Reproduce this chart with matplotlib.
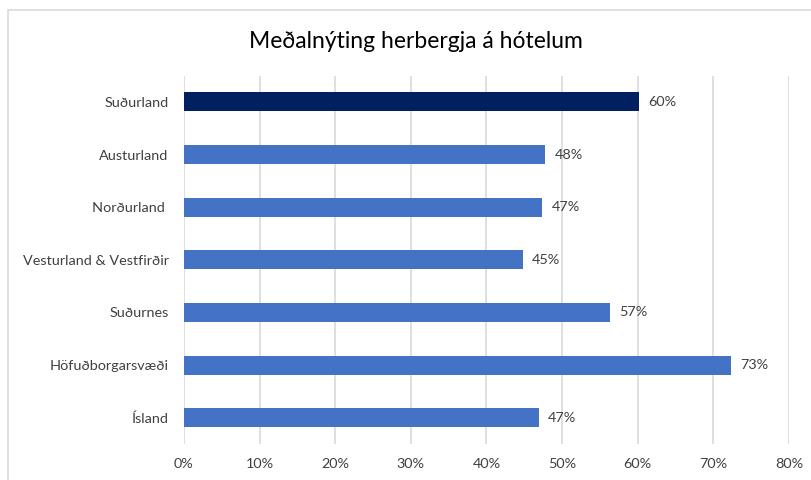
import matplotlib.pyplot as plt
from matplotlib.patches import Rectangle

categories = ['Suðurland', 'Austurland', 'Norðurland ', 'Vesturland & Vestfirðir',
              'Suðurnes', 'Höfuðborgarsvæði', 'Ísland']
values = [60.2, 47.8, 47.4, 44.8, 56.4, 72.4, 46.9]
labels = ['60%', '48%', '47%', '45%', '57%', '73%', '47%']
colors = ['#002060'] + ['#4472c4'] * 6

plt.rcParams['font.family'] = ['Lato', 'DejaVu Sans']

fig = plt.figure(figsize=(8.12, 4.8), dpi=100)
ax = fig.add_axes([0.2266, 0.075, 0.745, 0.7675])

# chart border (cropped on the right and bottom)
fig.patches.append(Rectangle((8 / 812, -0.1), 1.2, 1 - 10 / 480 + 0.1,
                             transform=fig.transFigure, fill=False,
                             edgecolor='#d9d9d9', linewidth=1.2))

y = list(range(len(categories)))
ax.barh(y, values, height=0.36, color=colors, zorder=3)
for yi, v, lab in zip(y, values, labels):
    ax.text(v + 1.2, yi, lab, va='center', ha='left', fontsize=10.4, color='#404040')

ax.set_xlim(0, 80)
ax.set_ylim(len(categories) - 0.5, -0.5)
ax.set_xticks(range(0, 81, 10))
ax.set_xticklabels([f'{t}%' for t in range(0, 81, 10)])
ax.set_yticks(y)
ax.set_yticklabels(categories)
ax.tick_params(length=0, labelsize=10.4, labelcolor='#404040')
ax.tick_params(axis='x', pad=10)
ax.tick_params(axis='y', pad=11)
ax.grid(axis='x', color='#d9d9d9', linewidth=1.2, zorder=0)
for s in ax.spines.values():
    s.set_visible(False)

fig.text(0.5 + 0.012, 1 - 42 / 480, 'Meðalnýting herbergja á hótelum',
         ha='center', va='center', fontsize=16.5, color='#000000')

fig.savefig('out.png', dpi=100)
